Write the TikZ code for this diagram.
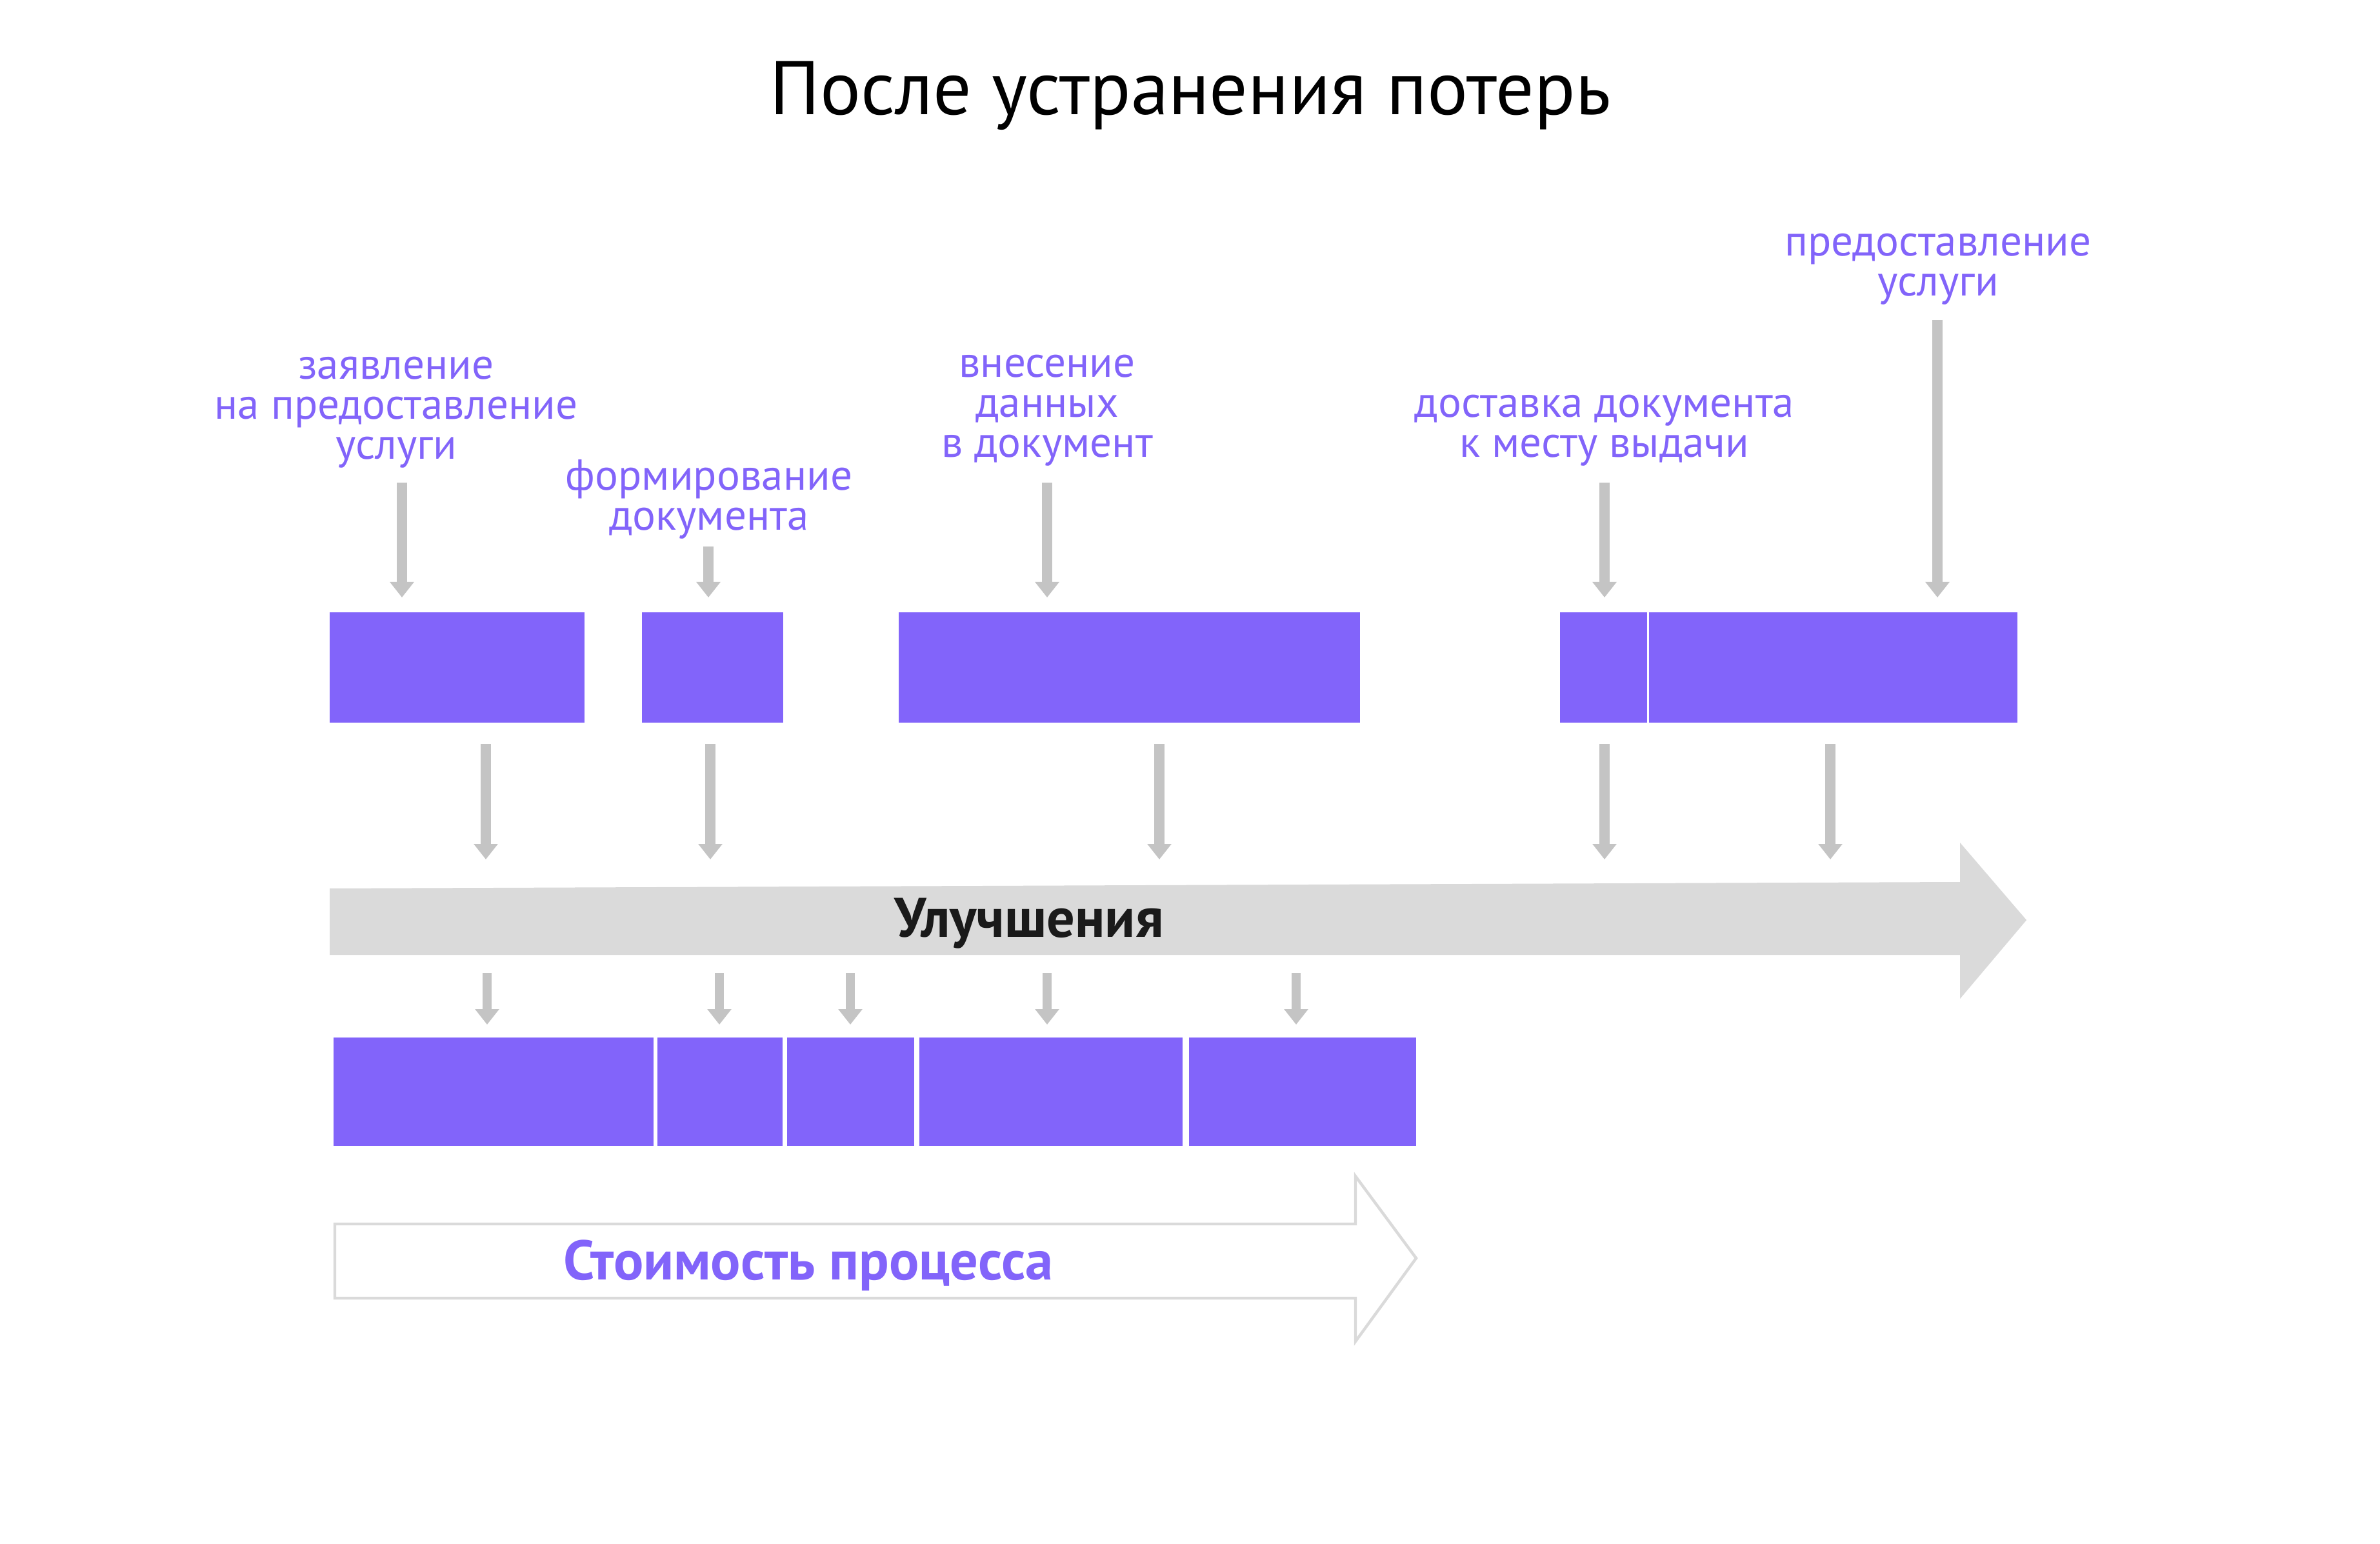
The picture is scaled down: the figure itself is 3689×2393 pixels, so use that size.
\documentclass[tikz,border=0pt]{standalone}
\usepackage{fontspec}
\setmainfont{PT Sans}
\usetikzlibrary{arrows.meta,fit}
\definecolor{vio}{HTML}{8264FA}
\definecolor{ag}{HTML}{C4C4C4}
\definecolor{bgg}{HTML}{DADADA}
\definecolor{ink}{HTML}{1A1A1A}
\begin{document}
\begin{tikzpicture}[x=0.25pt,y=-0.25pt,
  lbl/.style={text=vio, font=\fontsize{16.8}{15.6}\selectfont, align=center, anchor=base, inner sep=0pt},
  blk/.style={fill=vio, draw=none, inner sep=0pt},
  garrow/.style={draw=ag, line width=4pt, -{Triangle[width=9pt,length=6pt]}},
  garrowthin/.style={draw=ag, line width=3.5pt, -{Triangle[width=9pt,length=6pt]}},
  bigtxt/.style={font=\fontsize{21.6}{21.6}\bfseries\selectfont, anchor=base, inner sep=0pt}]
\fill[white] (0,0) rectangle (3689,2393);
\useasboundingbox (0,0) rectangle (3689,2393);

% title
\node[anchor=base, inner sep=0pt, font=\fontsize{29.4}{29.4}\selectfont] (title) at (1845,178) {После устранения потерь};

% labels (anchor = baseline of last line)
\node[lbl] (l1) at (614,712) {заявление\\на предоставление\\услуги};
\node[lbl] (l2) at (1099,822) {формирование\\документа};
\node[lbl] (l3) at (1623,709) {внесение\\данных\\в документ};
\node[lbl] (l4) at (2487,709) {доставка документа\\к месту выдачи};
\node[lbl] (l5) at (3004,459) {предоставление\\услуги};

% top boxes
\node[blk, fit={(511,949) (906,1120)}] (b1) {};
\node[blk, fit={(995,949) (1214,1120)}] (b2) {};
\node[blk, fit={(1393,949) (2108,1120)}] (b3) {};
\node[blk, fit={(2418,949) (2553,1120)}] (b4a) {};
\node[blk, fit={(2556,949) (3127,1120)}] (b4b) {};

% arrows from labels to boxes
\draw[garrow] (623,748) -- (623,926);
\draw[garrow] (1098,847) -- (1098,926);
\draw[garrow] (1623,748) -- (1623,926);
\draw[garrow] (2487,748) -- (2487,926);
\draw[garrow] (3003,496) -- (3003,926);

% arrows from boxes to improvement arrow
\foreach \xx in {753,1101,1797,2487,2837}
  \draw[garrow] (\xx,1153) -- (\xx,1332);

% big improvement arrow
\fill[bgg] (511,1377) -- (3038,1367) -- (3038,1306) -- (3141,1426) -- (3038,1548) -- (3038,1480) -- (511,1480) -- cycle;
\node[bigtxt, text=ink] (impr) at (1595,1452) {Улучшения};

% arrows to lower boxes
\foreach \xx in {755,1115,1318,1623,2009}
  \draw[garrowthin] (\xx,1508) -- (\xx,1588);

% lower boxes
\node[blk, fit={(517,1608) (1013,1776)}] (c1) {};
\node[blk, fit={(1019,1608) (1213,1776)}] (c2) {};
\node[blk, fit={(1220,1608) (1417,1776)}] (c3) {};
\node[blk, fit={(1425,1608) (1833,1776)}] (c4) {};
\node[blk, fit={(1843,1608) (2195,1776)}] (c5) {};

% cost arrow (outline)
\draw[bgg, line width=1.1pt, line join=miter] (519,1897) -- (2101,1897) -- (2101,1823) -- (2195,1950) -- (2101,2079) -- (2101,2012) -- (519,2012) -- cycle;
\node[bigtxt, text=vio] (cost) at (1253,1983) {Стоимость процесса};
\end{tikzpicture}
\end{document}
